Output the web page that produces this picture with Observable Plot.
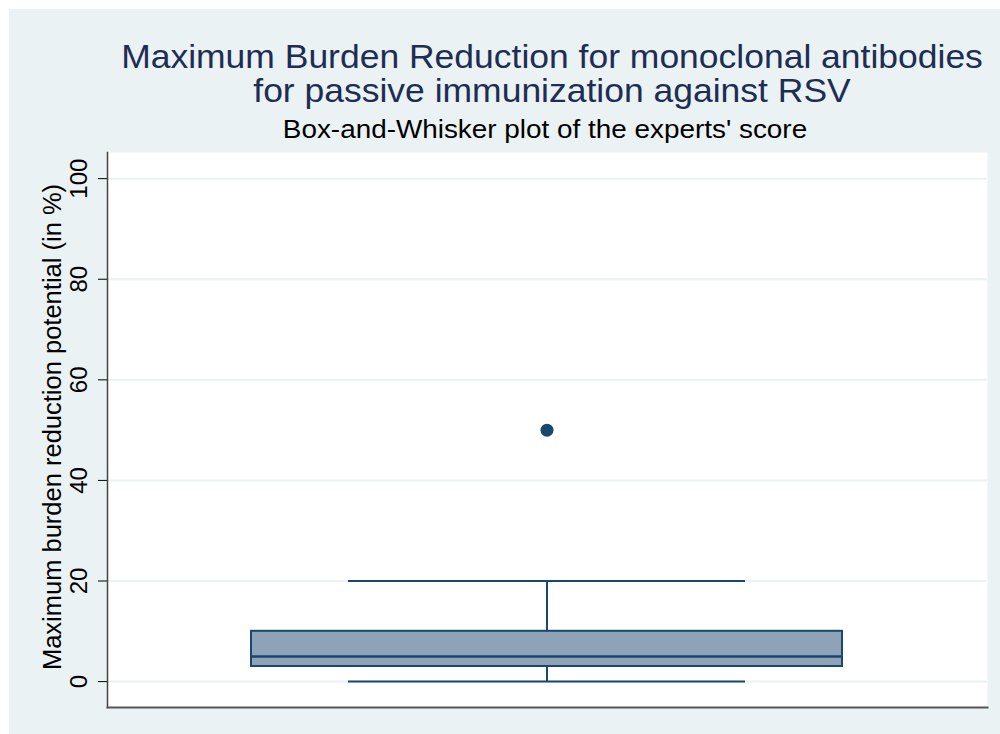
<!DOCTYPE html>
<html>
<head>
<meta charset="utf-8">
<script src="https://cdn.jsdelivr.net/npm/d3@7"></script>
<script src="https://cdn.jsdelivr.net/npm/@observablehq/plot@0.6"></script>
<style>
  html, body { margin: 0; padding: 0; background: #ffffff; width: 1000px; height: 734px; overflow: hidden; }
  #panel { position: absolute; left: 9px; top: 9px; width: 991px; height: 725px; background: #eaf2f3; }
  .t { position: absolute; left: 0; width: 1000px; text-align: center; font-family: "Liberation Sans", Arial, sans-serif; white-space: nowrap; }
  #title1, #title2 { color: #1e2d53; font-size: 33px; transform: scaleX(1.075); }
  #title1 { top: 38px; left: 52px; }
  #title2 { top: 72px; left: 52px; }
  #subtitle { top: 115px; left: 45px; color: #000; font-size: 25px; transform: scaleX(1.115); }
  #chart { position: absolute; left: 0; top: 145px; }
</style>
</head>
<body>
<div id="panel"></div>
<div class="t" id="title1">Maximum Burden Reduction for monoclonal antibodies</div>
<div class="t" id="title2">for passive immunization against RSV</div>
<div class="t" id="subtitle">Box-and-Whisker plot of the experts' score</div>
<div id="chart"></div>
<script>
// Data
const categories = ["mAbs"];
const whiskerLow = [0];
const q1 = [3];
const median = [5];
const q3 = [10];
const whiskerHigh = [20];
const outliers = [50];
const yTicks = [0, 20, 40, 60, 80, 100];
const yLabel = "Maximum burden reduction potential (in %)";

const boxes = categories.map((c, i) => ({
  cat: c, lo: whiskerLow[i], q1: q1[i], med: median[i], q3: q3[i], hi: whiskerHigh[i]
}));
const outs = outliers.map(v => ({cat: categories[0], v}));

const navy = "#1a476f";
const plot = Plot.plot({
  width: 1000,
  height: 589,
  marginLeft: 107,
  marginRight: 13,
  marginTop: 7,
  marginBottom: 27,
  style: {background: "transparent", fontFamily: "Liberation Sans, Arial, sans-serif"},
  x: {domain: categories, padding: 0.1957, axis: null},
  y: {domain: [-5.15, 105.2], ticks: yTicks},
  marks: [
    Plot.frame({fill: "white", stroke: null}),
    Plot.gridY(yTicks, {stroke: "#eaf2f3", strokeOpacity: 1, strokeWidth: 2}),
    Plot.axisY(yTicks, {
      tickSize: 9, tickRotate: -90, tickPadding: 12, fontSize: 24, color: "#000",
      stroke: "#000", strokeWidth: 1, label: null
    }),
    Plot.text([yLabel], {frameAnchor: "left", textAnchor: "middle", rotate: -90, dx: -55, dy: -3, fontSize: 25.5, fill: "#000"}),
    Plot.ruleX(boxes, {x: "cat", y1: "q3", y2: "hi", stroke: navy, strokeWidth: 2}),
    Plot.ruleX(boxes, {x: "cat", y1: "lo", y2: "q1", stroke: navy, strokeWidth: 2}),
    Plot.barY(boxes, {x: "cat", y1: "q1", y2: "q3", fill: "#8ea3b8", stroke: navy, strokeWidth: 2}),
    Plot.tickY(boxes, {x: "cat", y: "med", stroke: navy, strokeWidth: 2.5}),
    Plot.tickY(boxes, {x: "cat", y: "hi", stroke: navy, strokeWidth: 2, insetLeft: 97, insetRight: 97}),
    Plot.tickY(boxes, {x: "cat", y: "lo", stroke: navy, strokeWidth: 2, insetLeft: 97, insetRight: 97}),
    Plot.dot(outs, {x: "cat", y: "v", r: 6.5, fill: navy, stroke: null}),
    Plot.frame({anchor: "left", stroke: "#444", strokeWidth: 1.5}),
    Plot.frame({anchor: "bottom", stroke: "#555", strokeWidth: 2})
  ]
});
document.getElementById("chart").appendChild(plot);
</script>
</body>
</html>
